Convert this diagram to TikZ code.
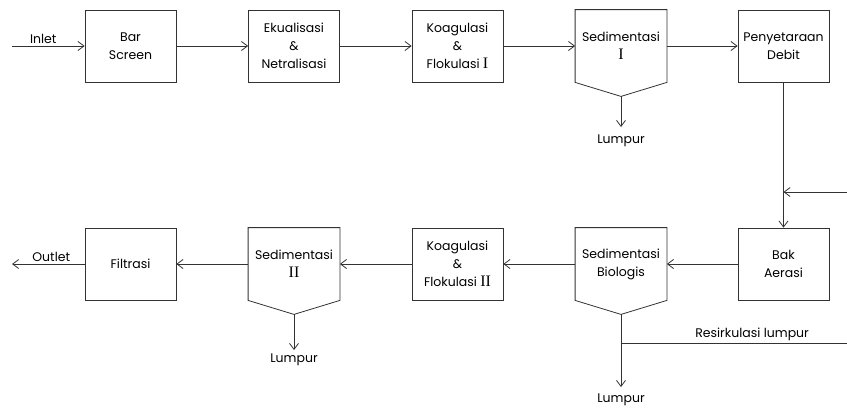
\documentclass[tikz,border=0pt]{standalone}
\usepackage{fontspec}
\setmainfont{Poppins}
\newfontfamily\romfont{Liberation Serif}
\newcommand{\romnum}[1]{{\romfont\fontsize{16}{18}\selectfont #1}}
\usetikzlibrary{arrows.meta,calc}

\begin{document}
\begin{tikzpicture}[x=1pt,y=-1pt,line width=0.8pt,draw=black!80,
    >={Straight Barb[length=6pt,width=9pt]},
    proc/.style={draw=black!80,minimum width=91pt,minimum height=72pt,
        inner sep=0pt,align=center,font=\fontsize{12.5}{18}\selectfont},
    sedtext/.style={proc,draw=none},
    lbl/.style={inner sep=2pt,font=\fontsize{12.5}{14}\selectfont}]
\useasboundingbox (0,0) rectangle (847,408);
% upper row
\node[proc] (bar) at (130.5,46) {Bar\\Screen};
\node[proc] (ekual) at (294,46) {Ekualisasi\\\&\\Netralisasi};
\node[proc] (koag1) at (457.5,46) {Koagulasi\\\&\\Flokulasi \romnum{I}};
\node[sedtext] (sed1) at (621,46) {Sedimentasi\\\romnum{I}};
\node[proc] (debit) at (783.5,46) {Penyetaraan\\Debit};
% lower row
\node[proc] (aerasi) at (783.5,264) {Bak\\Aerasi};
\node[sedtext] (sedbio) at (621,264) {Sedimentasi\\Biologis};
\node[proc] (koag2) at (457.5,264) {Koagulasi\\\&\\Flokulasi \romnum{II}};
\node[sedtext] (sed2) at (294,264) {Sedimentasi\\\romnum{II}};
\node[proc] (filtrasi) at (130.5,264) {Filtrasi};
% settling tanks
\foreach \s in {sed1,sedbio,sed2}{
    \coordinate (\s tip) at ($(\s.south)+(0,14)$);
    \draw (\s.north west) -- (\s.north east) -- (\s.south east)
        -- (\s tip) -- (\s.south west) -- cycle;
}
\coordinate (inlet) at (12,46);
\coordinate (outlet) at (12,264);
\coordinate (lumpur1) at (621,127);
\coordinate (lumpur2) at (294,350);
\coordinate (lumpur3) at (621,387);
\coordinate (rbranch) at (621,343);
\coordinate (rout) at (847,343);
\coordinate (rin) at (847,192);
% flow
\draw[->] (inlet) -- (bar) node[lbl,midway,above,xshift=-5pt] {Inlet};
\draw[->] (bar) -- (ekual);
\draw[->] (ekual) -- (koag1);
\draw[->] (koag1) -- (sed1);
\draw[->] (sed1) -- (debit);
\draw[->] (debit) -- (aerasi);
\draw[->] (rin) -- (rin -| aerasi);
\draw[->] (aerasi) -- (sedbio);
\draw[->] (sedbio) -- (koag2);
\draw[->] (koag2) -- (sed2);
\draw[->] (sed2) -- (filtrasi);
\draw[->] (filtrasi) -- (outlet) node[lbl,midway,above,xshift=3pt] {Outlet};
% sludge
\draw[->] (sed1tip) -- (lumpur1) node[lbl,below=5pt] {Lumpur};
\draw[->] (sed2tip) -- (lumpur2) node[lbl,below=1pt] {Lumpur};
\draw[->] (sedbiotip) -- (lumpur3) node[lbl,below=4pt] {Lumpur};
\draw (rbranch) -- (rout) node[lbl,pos=0.58,above] {Resirkulasi lumpur};
\end{tikzpicture}
\end{document}
